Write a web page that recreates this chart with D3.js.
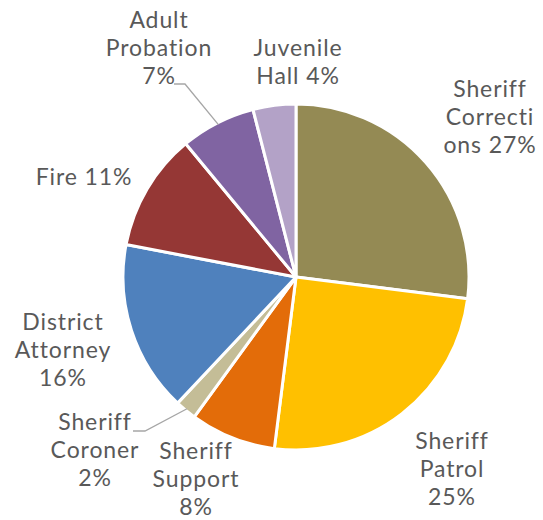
<!DOCTYPE html>
<html>
  <head>
    <meta charset="utf-8" />
    <script src="https://d3js.org/d3.v7.min.js"></script>
    <style>
        body { margin: 0; background: #fff; }
        .lbl { font-family: "Lato", sans-serif; font-size: 23px; letter-spacing: 0.9px; fill: #595959; }
    </style>
  </head>
  <body>
    <svg id="pie" width="543" height="520"></svg>

    <script>
        // data, clockwise from 12 o'clock
        var departments = ["Sheriff Corrections", "Sheriff Patrol", "Sheriff Support", "Sheriff Coroner",
                           "District Attorney", "Fire", "Adult Probation", "Juvenile Hall"];
        var shares = [27, 25, 8, 2, 16, 11, 7, 4];
        var colors = ["#948A54", "#FFC000", "#E36C09", "#C4BD97", "#4F81BD", "#953735", "#8064A2", "#B3A2C7"];
        // how each label wraps (as in the original)
        var labelLines = [
            ["Sheriff", "Correcti", "ons 27%"],
            ["Sheriff", "Patrol", "25%"],
            ["Sheriff", "Support", "8%"],
            ["Sheriff", "Coroner", "2%"],
            ["District", "Attorney", "16%"],
            ["Fire 11%"],
            ["Adult", "Probation", "7%"],
            ["Juvenile", "Hall 4%"]
        ];

        // layout: label centre x / first baseline y
        var labelAt = [[490, 97], [452, 449], [196, 459], [95, 430], [63, 330], [84, 185], [159, 28], [298, 56]];
        var lineH = 28;

        var cx = 296, cy = 277, r = 173;
        var svg = d3.select("#pie");
        var g = svg.append("g").attr("transform", "translate(" + cx + "," + cy + ")");

        var pie = d3.pie().sort(null).value(function(d){ return d; });
        var arc = d3.arc().innerRadius(0).outerRadius(r);
        var arcs = pie(shares);

        g.selectAll("path")
            .data(arcs)
            .enter().append("path")
            .attr("d", arc)
            .attr("fill", function(d, i){ return colors[i]; })
            .attr("stroke", "#fff")
            .attr("stroke-width", 3)
            .attr("stroke-linejoin", "round");

        // leader lines for the two labels that sit away from their slice
        function leader(i, x0, x1, y) {
            var a = (arcs[i].startAngle + arcs[i].endAngle) / 2;
            var px = cx + (r - 2) * Math.sin(a), py = cy - (r - 2) * Math.cos(a);
            svg.append("polyline")
                .attr("points", [[x0, y], [x1, y], [px, py]].map(function(p){ return p.join(","); }).join(" "))
                .attr("fill", "none")
                .attr("stroke", "#A6A6A6")
                .attr("stroke-width", 1.3);
        }
        leader(6, 174, 185, 84);
        leader(3, 133, 145, 431);

        var labels = svg.selectAll("text.lbl")
            .data(departments)
            .enter().append("text")
            .attr("class", "lbl")
            .attr("text-anchor", "middle");

        labels.each(function(d, i){
            var t = d3.select(this);
            labelLines[i].forEach(function(line, k){
                t.append("tspan")
                    .attr("x", labelAt[i][0])
                    .attr("y", labelAt[i][1] + k * lineH)
                    .text(line);
            });
        });
    </script>
  </body>
</html>
